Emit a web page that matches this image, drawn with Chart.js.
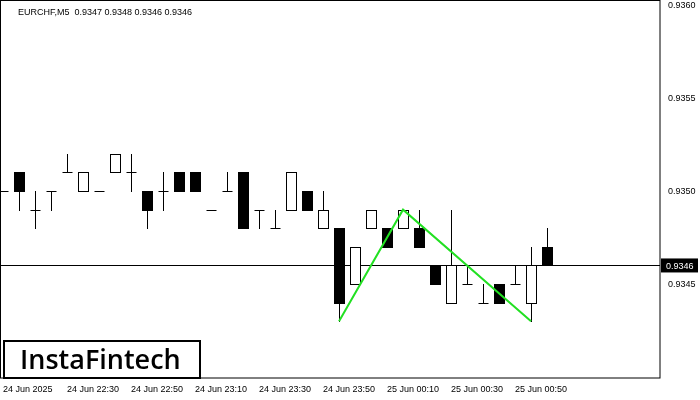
<!DOCTYPE html><html><head><script src="https://cdn.jsdelivr.net/npm/chart.js@4"></script>
<style>body{margin:0;background:#fff}#w{width:700px;height:400px}</style></head><body><div id="w"><canvas id="c"></canvas></div>
<script>
const opens  =[0.9350,0.9351,0.9349,0.9350,0.9351,0.9350,0.9350,0.9351,0.9351,0.9350,0.9350,0.9351,0.9351,0.9349,0.9350,0.9351,0.9349,0.9348,0.9349,0.9350,0.9348,0.9348,0.9345,0.9348,0.9348,0.9348,0.9348,0.9346,0.9344,0.9345,0.9344,0.9345,0.9345,0.9344,0.9347];
const highs  =[0.9350,0.9351,0.9350,0.9350,0.9352,0.9351,0.9350,0.9352,0.9352,0.9350,0.9351,0.9351,0.9351,0.9349,0.9351,0.9351,0.9349,0.9349,0.9351,0.9350,0.9350,0.9348,0.9347,0.9349,0.9348,0.9349,0.9349,0.9346,0.9349,0.9346,0.9345,0.9345,0.9346,0.9347,0.9348];
const lows   =[0.9350,0.9349,0.9348,0.9349,0.9351,0.9350,0.9350,0.9351,0.9350,0.9348,0.9349,0.9350,0.9350,0.9349,0.9350,0.9348,0.9348,0.9348,0.9349,0.9349,0.9348,0.9343,0.9345,0.9348,0.9347,0.9348,0.9347,0.9345,0.9344,0.9345,0.9344,0.9344,0.9345,0.9343,0.9346];
const closes =[0.9350,0.9350,0.9349,0.9350,0.9351,0.9351,0.9350,0.9352,0.9351,0.9349,0.9350,0.9350,0.9350,0.9349,0.9350,0.9348,0.9349,0.9348,0.9351,0.9349,0.9349,0.9344,0.9347,0.9349,0.9347,0.9349,0.9347,0.9345,0.9346,0.9345,0.9344,0.9344,0.9345,0.9346,0.9346];
const patternIdx=[22,26,34];
const patternVal=[0.9343,0.9349,0.9343];
const tickIdx=[1,5,9,13,17,21,25,29,33];
const tickLabels=["24 Jun 2025","24 Jun 22:30","24 Jun 22:50","24 Jun 23:10","24 Jun 23:30","24 Jun 23:50","25 Jun 00:10","25 Jun 00:30","25 Jun 00:50"];
const yTicks=[0.9345,0.9350,0.9355,0.9360];
const lastPrice=0.9346;
const title="EURCHF,M5  0.9347 0.9348 0.9346 0.9346";

const candlePlugin={id:'candles',
 beforeDatasetsDraw(ch){
  const {ctx,scales:{x,y},chartArea:a}=ch;
  ctx.save();
  ctx.strokeStyle='#000';ctx.lineWidth=1;
  const py=Math.round(y.getPixelForValue(lastPrice))+0.5;
  ctx.beginPath();ctx.moveTo(a.left,py);ctx.lineTo(a.right,py);ctx.stroke();
  for(let i=0;i<opens.length;i++){
   const cx=Math.round(x.getPixelForValue(i+1))+0.5;
   const o=y.getPixelForValue(opens[i]),c=y.getPixelForValue(closes[i]);
   const h=y.getPixelForValue(highs[i]),l=y.getPixelForValue(lows[i]);
   const top=Math.round(Math.min(o,c))+0.5,bot=Math.round(Math.max(o,c))+0.5;
   ctx.beginPath();ctx.moveTo(cx,Math.round(h));ctx.lineTo(cx,Math.round(l)+1);ctx.stroke();
   if(bot-top<1){ctx.beginPath();ctx.moveTo(cx-5,top);ctx.lineTo(cx+5,top);ctx.stroke();}
   else{
    ctx.fillStyle=closes[i]<opens[i]?'#000':'#fff';
    ctx.fillRect(cx-5,top,10,bot-top);ctx.strokeRect(cx-5,top,10,bot-top);
   }
  }
  ctx.restore();
 },
 afterDraw(ch){
  const {ctx,scales:{y},chartArea:a}=ch;
  ctx.save();
  ctx.strokeStyle='#000';ctx.lineWidth=1;
  ctx.strokeRect(0.5,0.5,a.right-0.5,a.bottom-0.5);
  ctx.font='9px "Liberation Sans"';ctx.textBaseline='middle';ctx.fillStyle='#000';
  for(const v of yTicks){ctx.fillText(v.toFixed(4),a.right+8,y.getPixelForValue(v));}
  const py=y.getPixelForValue(lastPrice);
  ctx.fillStyle='#000';ctx.fillRect(a.right+1,py-7,37,14);
  ctx.fillStyle='#fff';
  ctx.fillText(lastPrice.toFixed(4),a.right+6,py+1);
  ctx.fillStyle='#000';ctx.textBaseline='alphabetic';
  ctx.fillText(title,18,15);
  ctx.fillStyle='#fff';ctx.fillRect(3,340,198,38);ctx.lineWidth=2;ctx.strokeRect(4,341,196,37);
  ctx.fillStyle='#000';ctx.font='600 27px "Open Sans"';ctx.fillText('InstaFintech',20,369);
  ctx.restore();
 }};

new Chart(document.getElementById('c'),{
 type:'line',
 data:{datasets:[{data:patternIdx.map((v,i)=>({x:v,y:patternVal[i]})),borderColor:'#22e022',borderWidth:2,pointRadius:0,tension:0}]},
 options:{responsive:true,maintainAspectRatio:false,animation:false,
  layout:{padding:0},
  plugins:{legend:{display:false},tooltip:{enabled:false}},
  scales:{
   x:{type:'linear',min:0.81,max:42.06,grid:{display:false},border:{display:false},
     afterBuildTicks(s){s.ticks=tickIdx.map(v=>({value:v}));},
     afterFit(s){s.height=22;},
     ticks:{autoSkip:false,maxRotation:0,align:'start',color:'#000',padding:-2,font:{size:9,family:'Liberation Sans'},
       callback:(v)=>tickLabels[tickIdx.indexOf(v)]}},
   y:{position:'right',min:0.933995,max:0.936027,grid:{display:false},border:{display:false},
     afterBuildTicks(s){s.ticks=yTicks.map(v=>({value:v}));},
     afterFit(s){s.width=40;},
     ticks:{display:false}}
  }},
 plugins:[candlePlugin]});
</script></body></html>
